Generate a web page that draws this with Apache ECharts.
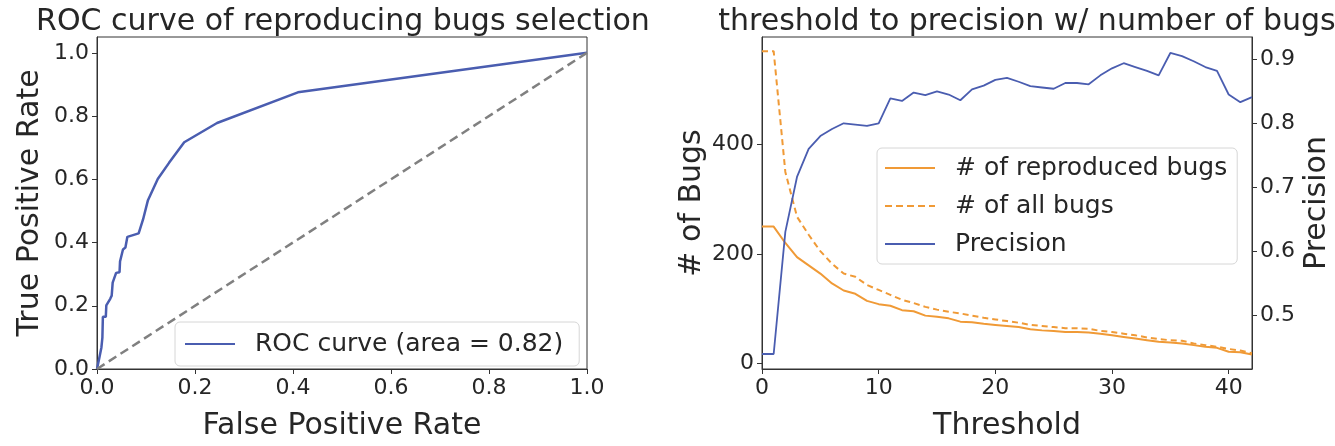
<!DOCTYPE html>
<html><head><meta charset="utf-8">
<script src="https://cdn.jsdelivr.net/npm/echarts@6/dist/echarts.min.js"></script>
<style>html,body{margin:0;padding:0;background:#fff}#c{width:1335px;height:446px}</style>
</head><body><div id="c"></div>
<script>
// ---- ROC data ----
const rocFpr = [0, 0.005, 0.009, 0.011, 0.012, 0.018, 0.019, 0.027, 0.030, 0.032, 0.039, 0.046, 0.047, 0.053, 0.058, 0.062, 0.085, 0.094, 0.104, 0.124, 0.147, 0.178, 0.245, 0.41, 1.0];
const rocTpr = [0, 0.037, 0.068, 0.099, 0.165, 0.165, 0.201, 0.222, 0.232, 0.273, 0.304, 0.306, 0.340, 0.378, 0.384, 0.418, 0.429, 0.473, 0.534, 0.601, 0.652, 0.717, 0.778, 0.875, 1.0];
const chanceLine = [0, 1];
const rocTicks = [0, 0.2, 0.4, 0.6, 0.8, 1.0];

// ---- Threshold data ----
const thresholds = [0,1,2,3,4,5,6,7,8,9,10,11,12,13,14,15,16,17,18,19,20,21,22,23,24,25,26,27,28,29,30,31,32,33,34,35,36,37,38,39,40,41,42];
const reproducedBugs = [250,250,220,194,179,164,146,133,127,114,108,105,97,95,87,85,82,76,75,72,70,68,66,62,60,59,57,57,56,54,51,48,45,42,39,38,36,33,30,28,21,20,16];
const allBugs = [571,571,350,268,235,205,182,164,158,143,134,125,116,110,103,98,94,91,87,83,80,77,74,70,68,66,64,64,63,59,57,54,51,47,44,42,41,36,33,30,26,23,18];
const precision = [0.439,0.439,0.630,0.716,0.760,0.780,0.791,0.800,0.798,0.796,0.800,0.839,0.835,0.848,0.844,0.850,0.845,0.836,0.853,0.859,0.868,0.871,0.865,0.858,0.856,0.854,0.863,0.863,0.861,0.875,0.886,0.894,0.888,0.882,0.875,0.910,0.905,0.897,0.888,0.882,0.845,0.833,0.841];
const thresholdTicks = [0, 10, 20, 30, 40];
const bugTicks = [0, 200, 400];
const precisionTicks = [0.5, 0.6, 0.7, 0.8, 0.9];

const FONT = 'DejaVu Sans';
const TXT = '#262626';
const SPINE = '#333333';
const BLUE = '#4a5db0';
const ORANGE = '#f09a36';
const SOLID_ICON = 'path://M0,0h50v2h-50z';
const DASH_ICON = 'path://M0,0h7v2h-7z M11,0h7v2h-7z M22,0h7v2h-7z M33,0h7v2h-7z M44,0h6v2h-6z';

function axisCommon(ticks, fmt) {
  return {
    axisLine: { show: true, onZero: false, lineStyle: { color: SPINE, width: 1 } },
    axisTick: { show: true, length: 5, lineStyle: { color: SPINE }, customValues: ticks },
    axisLabel: { customValues: ticks, formatter: fmt, fontFamily: FONT, fontSize: 22, color: TXT, margin: 8 },
    splitLine: { show: false },
    nameTextStyle: { fontFamily: FONT, fontSize: 30, color: TXT },
    nameLocation: 'middle'
  };
}

const chart = echarts.init(document.getElementById('c'), null, { renderer: 'canvas' });
const option = {
  backgroundColor: '#ffffff',
  animation: false,
  title: [
    { text: 'ROC curve of reproducing bugs selection', left: 338, top: 2, textAlign: 'center',
      textStyle: { fontFamily: FONT, fontSize: 30, fontWeight: 'normal', color: TXT } },
    { text: 'threshold to precision w/ number of bugs', left: 1022, top: 2, textAlign: 'center',
      textStyle: { fontFamily: FONT, fontSize: 30, fontWeight: 'normal', color: TXT } }
  ],
  grid: [
    { left: 97, top: 37, width: 490, height: 342, show: true, borderColor: SPINE, borderWidth: 1, backgroundColor: 'transparent' },
    { left: 762, top: 37, width: 490, height: 341, show: true, borderColor: SPINE, borderWidth: 1, backgroundColor: 'transparent' }
  ],
  xAxis: [
    Object.assign(axisCommon(rocTicks, v => v.toFixed(1)), {
      type: 'value', gridIndex: 0, min: 0, max: 1, name: 'False Positive Rate', nameGap: 42
    }),
    Object.assign(axisCommon(thresholdTicks, v => String(v)), {
      type: 'value', gridIndex: 1, min: 0, max: 42, name: 'Threshold', nameGap: 42
    })
  ],
  yAxis: [
    Object.assign(axisCommon(rocTicks, v => v.toFixed(1)), {
      type: 'value', gridIndex: 0, min: 0, max: 1.05, name: 'True Positive Rate', nameGap: 52, nameRotate: 90
    }),
    Object.assign(axisCommon(bugTicks, v => String(v)), {
      type: 'value', gridIndex: 1, position: 'left', min: -10.7, max: 597, name: '# of Bugs', nameGap: 55, nameRotate: 90
    }),
    Object.assign(axisCommon(precisionTicks, v => v.toFixed(1)), {
      type: 'value', gridIndex: 1, position: 'right', min: 0.4155, max: 0.935, name: 'Precision', nameGap: 50, nameRotate: 90
    })
  ],
  legend: [
    { data: [{ name: 'ROC curve (area = 0.82)', icon: SOLID_ICON }], left: 175, top: 322, orient: 'vertical',
      itemWidth: 50, itemHeight: 2.5, padding: [8, 16, 8, 10],
      borderColor: '#d6d6d6', borderWidth: 1, borderRadius: 5, backgroundColor: 'rgba(255,255,255,0.8)',
      textStyle: { fontFamily: FONT, fontSize: 25, color: TXT, lineHeight: 28, padding: [0, 0, 0, 15] } },
    { data: [{ name: '# of reproduced bugs', icon: SOLID_ICON }, { name: '# of all bugs', icon: DASH_ICON }, { name: 'Precision', icon: SOLID_ICON }],
      left: 877, top: 148, orient: 'vertical',
      itemWidth: 50, itemHeight: 2, itemGap: 10, padding: [6, 10, 6, 8],
      borderColor: '#d6d6d6', borderWidth: 1, borderRadius: 5, backgroundColor: 'rgba(255,255,255,0.8)',
      textStyle: { fontFamily: FONT, fontSize: 25, color: TXT, lineHeight: 28, padding: [0, 0, 0, 15] } }
  ],
  series: [
    { name: 'ROC curve (area = 0.82)', type: 'line', xAxisIndex: 0, yAxisIndex: 0, symbol: 'none',
      data: rocFpr.map((f, i) => [f, rocTpr[i]]), color: BLUE, lineStyle: { color: BLUE, width: 2.5 } },
    { name: 'chance', type: 'line', xAxisIndex: 0, yAxisIndex: 0, symbol: 'none',
      data: chanceLine.map(v => [v, v]), color: '#808080', lineStyle: { color: '#808080', width: 2.5, type: [9, 5] } },
    { name: '# of reproduced bugs', type: 'line', xAxisIndex: 1, yAxisIndex: 1, symbol: 'none',
      data: thresholds.map((t, i) => [t, reproducedBugs[i]]), color: ORANGE, lineStyle: { color: ORANGE, width: 2 } },
    { name: '# of all bugs', type: 'line', xAxisIndex: 1, yAxisIndex: 1, symbol: 'none',
      data: thresholds.map((t, i) => [t, allBugs[i]]), color: ORANGE, lineStyle: { color: ORANGE, width: 2, type: [6, 4] } },
    { name: 'Precision', type: 'line', xAxisIndex: 1, yAxisIndex: 2, symbol: 'none',
      data: thresholds.map((t, i) => [t, precision[i]]), color: BLUE, lineStyle: { color: BLUE, width: 1.8 } }
  ]
};
chart.setOption(option);
</script>
</body></html>
